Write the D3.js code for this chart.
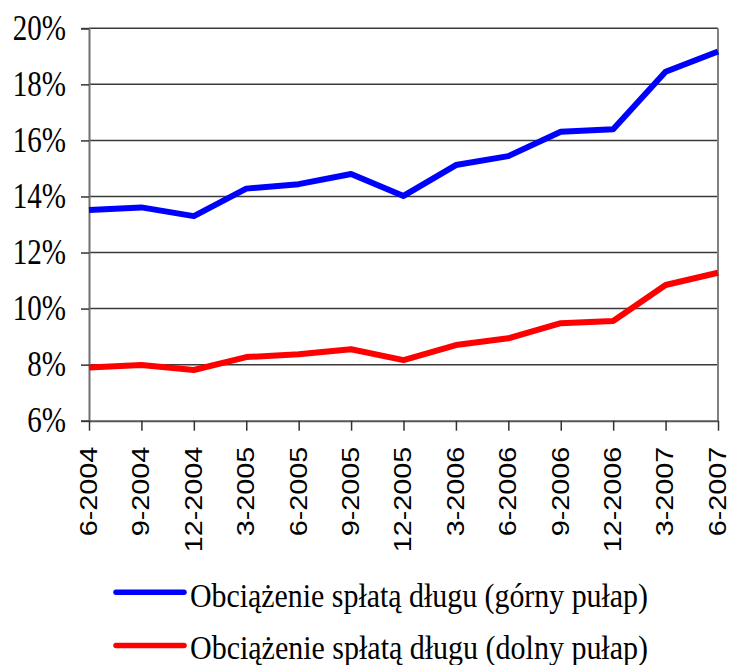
<!DOCTYPE html>
<html><head><meta charset="utf-8">
<script src="https://cdn.jsdelivr.net/npm/d3@7"></script>
<style>html,body{margin:0;padding:0;background:#fff;}svg{display:block;}</style>
</head><body>
<svg id="chart" width="731" height="665"></svg>
<script>
const categories = ["6-2004","9-2004","12-2004","3-2005","6-2005","9-2005","12-2005","3-2006","6-2006","9-2006","12-2006","3-2007","6-2007"];
const upperValues = [13.52,13.61,13.30,14.28,14.44,14.80,14.02,15.12,15.44,16.31,16.40,18.45,19.17];
const lowerValues = [7.90,7.99,7.81,8.27,8.37,8.55,8.16,8.70,8.94,9.48,9.56,10.84,11.28];
const yTicks = [6,8,10,12,14,16,18,20];
const seriesNames = ["Obciążenie spłatą długu (górny pułap)","Obciążenie spłatą długu (dolny pułap)"];
const seriesColors = ["#0000ff","#ff0000"];

const svg = d3.select("#chart");
const plotL = 89, plotR = 718, plotT = 28.3, plotB = 420.7;
const x = d3.scalePoint().domain(categories).range([plotL, plotR]);
const y = d3.scaleLinear().domain([6,20]).range([plotB, plotT]);

// gridlines
svg.append("g").selectAll("line").data(yTicks.filter(d=>d>6)).join("line")
  .attr("x1", plotL).attr("x2", plotR).attr("y1", d=>y(d)).attr("y2", d=>y(d))
  .attr("stroke", "#3a3a3a").attr("stroke-width", 1.5);
// right border
svg.append("line").attr("x1", plotR).attr("x2", plotR).attr("y1", plotT).attr("y2", plotB)
  .attr("stroke", "#808080").attr("stroke-width", 2);

// y axis
const yAxis = d3.axisLeft(y).tickValues(yTicks).tickSize(8).tickFormat(d=>d+"%");
const gy = svg.append("g").attr("transform", `translate(${plotL},0)`).call(yAxis);
gy.select(".domain").attr("stroke", "#707070").attr("stroke-width", 2);
gy.selectAll(".tick line").attr("stroke", "#333").attr("stroke-width", 1.5);
gy.selectAll(".tick text").remove();
gy.selectAll(".tick").append("text")
  .attr("transform", "translate(-23,11) scale(0.83,1)")
  .attr("text-anchor", "end").attr("fill", "#000")
  .style("font-family", "'Liberation Serif','Times New Roman',serif").style("font-size", "35px")
  .text(d=>d+"%");

// x axis
const xAxis = d3.axisBottom(x).tickSize(10).tickSizeOuter(0);
const gx = svg.append("g").attr("transform", `translate(0,${plotB})`).call(xAxis);
gx.select(".domain").attr("stroke", "#555").attr("stroke-width", 2);
gx.selectAll(".tick line").attr("stroke", "#333").attr("stroke-width", 1.5);
gx.selectAll(".tick text").remove();
gx.selectAll(".tick").append("text")
  .attr("transform", "translate(-1,26) scale(1,1.2) rotate(-90)")
  .attr("text-anchor", "end").attr("dy", "0.35em").attr("fill", "#000")
  .style("font-family", "'Liberation Sans',Arial,sans-serif").style("font-size", "24px")
  .text(d=>d);

// lines
const line = d3.line().x((d,i)=>x(categories[i])).y(d=>y(d));
[upperValues, lowerValues].forEach((vals, k) => {
  svg.append("path").datum(vals).attr("d", line)
    .attr("fill", "none").attr("stroke", seriesColors[k]).attr("stroke-width", 6)
    .attr("stroke-linejoin", "round");
});

// legend
const legendY = [592.3, 645.5];
const legendBase = [606.7, 659.3];
seriesNames.forEach((name, k) => {
  svg.append("line").attr("x1", 116).attr("x2", 184).attr("y1", legendY[k]).attr("y2", legendY[k])
    .attr("stroke", seriesColors[k]).attr("stroke-width", 5.5).attr("stroke-linecap", "round");
  svg.append("text").attr("x", 190).attr("y", legendBase[k])
    .attr("textLength", 458).attr("lengthAdjust", "spacingAndGlyphs")
    .attr("fill", "#000")
    .style("font-family", "'Liberation Serif','Times New Roman',serif").style("font-size", "33px")
    .text(name);
});
</script>
</body></html>
